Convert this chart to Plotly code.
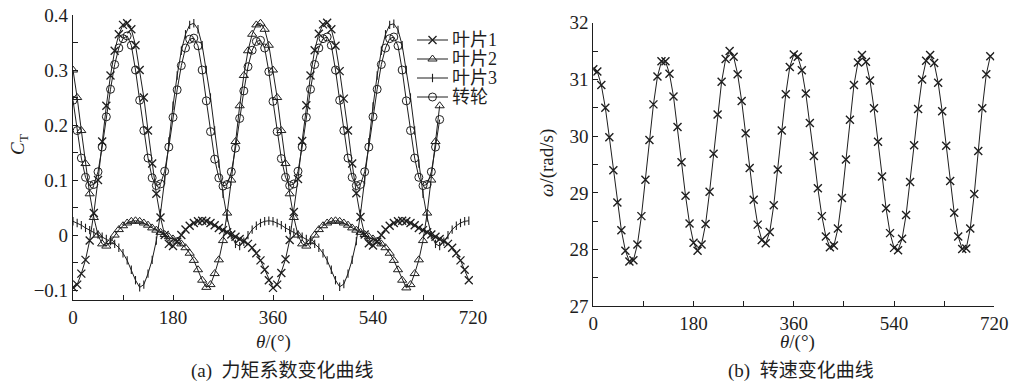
import numpy as np
import plotly.graph_objects as go

# ---------------- data ----------------
STEP_A = 7.5   # sampling step of the torque-coefficient curves (deg)
STEP_B = 7.2   # sampling step of the rotational-speed curve (deg)

blade1 = [
    -0.095, -0.09, -0.07, -0.045, -0.01, 0.04, 0.10, 0.17, 0.235, 0.29, 0.335, 0.365, 0.382, 0.385, 0.374, 0.345,
    0.30, 0.25, 0.19, 0.13, 0.075, 0.032, 0.0, -0.016, -0.02, -0.012, 0.0, 0.01, 0.017, 0.022, 0.025, 0.026,
    0.025, 0.022, 0.018, 0.013, 0.009, 0.005, 0.001, -0.003, -0.007, -0.011, -0.016, -0.023, -0.033, -0.046, -0.063, -0.082,
    -0.096, -0.09, -0.069, -0.044, -0.009, 0.042, 0.102, 0.171, 0.236, 0.29, 0.336, 0.366, 0.383, 0.386, 0.374, 0.344,
    0.298, 0.248, 0.19, 0.13, 0.076, 0.033, 0.001, -0.015, -0.019, -0.012, 0.0, 0.01, 0.017, 0.022, 0.025, 0.026,
    0.025, 0.022, 0.018, 0.013, 0.009, 0.005, 0.001, -0.003, -0.007, -0.011, -0.016, -0.023, -0.033, -0.046, -0.063, -0.082,
]

blade2 = [
    0.30, 0.25, 0.19, 0.13, 0.075, 0.032, 0.0, -0.016, -0.02, -0.012, 0.0, 0.01, 0.017, 0.022, 0.025, 0.026,
    0.025, 0.022, 0.018, 0.013, 0.009, 0.005, 0.001, -0.003, -0.007, -0.011, -0.016, -0.023, -0.033, -0.046, -0.063, -0.082,
    -0.095, -0.09, -0.07, -0.045, -0.01, 0.04, 0.10, 0.17, 0.235, 0.29, 0.335, 0.365, 0.382, 0.385, 0.374, 0.345,
    0.30, 0.25, 0.19, 0.13, 0.075, 0.032, 0.0, -0.016, -0.02, -0.012, 0.0, 0.01, 0.017, 0.022, 0.025, 0.026,
    0.025, 0.022, 0.018, 0.013, 0.009, 0.005, 0.001, -0.003, -0.007, -0.011, -0.016, -0.023, -0.033, -0.046, -0.063, -0.082,
    -0.096, -0.09, -0.07, -0.045, -0.01, 0.04, 0.10, 0.17, 0.235,
]

blade3 = [
    0.025, 0.022, 0.018, 0.013, 0.009, 0.005, 0.001, -0.003, -0.007, -0.011, -0.016, -0.023, -0.033, -0.046, -0.063, -0.082,
    -0.095, -0.09, -0.07, -0.045, -0.01, 0.04, 0.10, 0.17, 0.235, 0.29, 0.335, 0.365, 0.382, 0.385, 0.374, 0.345,
    0.30, 0.25, 0.19, 0.13, 0.075, 0.032, 0.0, -0.016, -0.02, -0.012, 0.0, 0.01, 0.017, 0.022, 0.025, 0.026,
    0.025, 0.022, 0.018, 0.013, 0.009, 0.005, 0.001, -0.003, -0.007, -0.011, -0.016, -0.023, -0.033, -0.046, -0.063, -0.082,
    -0.094, -0.089, -0.07, -0.045, -0.011, 0.039, 0.10, 0.169, 0.234, 0.29, 0.335, 0.365, 0.382, 0.384, 0.373, 0.345,
    0.30, 0.25, 0.19, 0.13, 0.075, 0.032, 0.0, -0.016, -0.02, -0.012, 0.0, 0.01, 0.017, 0.022, 0.025, 0.026,
]

rotor = [
    0.245, 0.19, 0.14, 0.105, 0.09, 0.092, 0.115, 0.16, 0.215, 0.265, 0.31, 0.34, 0.357, 0.362, 0.345, 0.30,
    0.245, 0.19, 0.14, 0.104, 0.09, 0.093, 0.116, 0.16, 0.214, 0.264, 0.308, 0.34, 0.356, 0.358, 0.344, 0.30,
    0.244, 0.188, 0.138, 0.104, 0.089, 0.092, 0.115, 0.158, 0.212, 0.262, 0.306, 0.336, 0.352, 0.354, 0.34, 0.297,
    0.243, 0.188, 0.139, 0.105, 0.09, 0.093, 0.116, 0.16, 0.214, 0.265, 0.31, 0.34, 0.357, 0.36, 0.345, 0.30,
    0.245, 0.19, 0.14, 0.105, 0.09, 0.092, 0.115, 0.16, 0.215, 0.265, 0.31, 0.34, 0.357, 0.36, 0.344, 0.30,
    0.244, 0.19, 0.14, 0.105, 0.09, 0.092, 0.115, 0.16, 0.21,
]

omega = [
    31.18, 31.14, 30.90, 30.50, 29.98, 29.40, 28.83, 28.34, 27.98, 27.79,
    27.81, 28.09, 28.59, 29.23, 29.93, 30.56, 31.05, 31.32, 31.32, 31.10,
    30.70, 30.16, 29.54, 28.95, 28.46, 28.12, 27.98, 28.09, 28.45, 29.02,
    29.69, 30.38, 30.96, 31.36, 31.50, 31.40, 31.09, 30.62, 30.05, 29.44,
    28.88, 28.44, 28.17, 28.11, 28.31, 28.78, 29.41, 30.10, 30.74, 31.22,
    31.44, 31.40, 31.16, 30.75, 30.23, 29.65, 29.08, 28.59, 28.23, 28.04,
    28.07, 28.37, 28.91, 29.59, 30.29, 30.90, 31.30, 31.43, 31.31, 30.98,
    30.49, 29.90, 29.29, 28.73, 28.29, 28.03, 27.99, 28.19, 28.61, 29.19,
    29.84, 30.48, 31.00, 31.33, 31.43, 31.29, 30.94, 30.44, 29.83, 29.21,
    28.65, 28.23, 28.01, 28.02, 28.37, 28.98, 29.74, 30.49, 31.09, 31.41,
]

series_names = ["叶片1", "叶片2", "叶片3", "转轮"]
x_ticks = [0, 180, 360, 540, 720]
ya_ticks = [-0.1, 0, 0.1, 0.2, 0.3, 0.4]
ya_ticktext = ["\u22120.1", "0", "0.1", "0.2", "0.3", "0.4"]
yb_ticks = [27, 28, 29, 30, 31, 32]

# ---------------- figure ----------------
W, H = 1015, 385
INK = "#1e1e1e"
SERIF = "Times New Roman, Liberation Serif, Tinos, DejaVu Serif, Noto Sans CJK SC, serif"
FS = 19


def grid(n, step):
    return np.arange(n) * step


def px(x):
    return x / W


def py(y):
    return 1 - y / H


markers = [
    dict(symbol="x-thin", size=8, line=dict(width=1.3, color=INK)),
    dict(symbol="triangle-up-open", size=8, color=INK, line=dict(width=1, color=INK)),
    dict(symbol="line-ns", size=6, line=dict(width=1.1, color=INK)),
    dict(symbol="circle-open", size=8, color=INK, line=dict(width=1, color=INK)),
]

fig = go.Figure()
for name, vals, mk in zip(series_names, [blade1, blade2, blade3, rotor], markers):
    fig.add_trace(go.Scatter(
        x=grid(len(vals), STEP_A), y=vals, name=name, mode="lines+markers",
        line=dict(color=INK, width=1), marker=mk, xaxis="x", yaxis="y", showlegend=False,
    ))

fig.add_trace(go.Scatter(
    x=grid(len(omega), STEP_B), y=omega, mode="lines+markers", showlegend=False,
    line=dict(color=INK, width=1),
    marker=dict(symbol="x-thin", size=8, line=dict(width=1.4, color=INK)),
    xaxis="x2", yaxis="y2",
))

# hand-built legend (pixel overlay axes)
LEG_X0, LEG_X1, LEG_Y0, LEG_DY = 417, 448, 40, 19
for i, (name, mk) in enumerate(zip(series_names, markers)):
    yy = LEG_Y0 + i * LEG_DY
    fig.add_trace(go.Scatter(
        x=[LEG_X0, (LEG_X0 + LEG_X1) / 2, LEG_X1], y=[yy, yy, yy], mode="lines",
        line=dict(color=INK, width=1), xaxis="x3", yaxis="y3", showlegend=False, hoverinfo="skip",
    ))
    fig.add_trace(go.Scatter(
        x=[(LEG_X0 + LEG_X1) / 2], y=[yy], mode="markers", marker=mk,
        xaxis="x3", yaxis="y3", showlegend=False, hoverinfo="skip",
    ))
    fig.add_annotation(xref="paper", yref="paper", x=px(LEG_X1 + 2), y=py(yy), text=name,
                       showarrow=False, xanchor="left", yanchor="middle",
                       font=dict(family=SERIF, size=18, color=INK))

axis_common = dict(
    showline=True, linecolor=INK, linewidth=1.2, ticks="inside", ticklen=5,
    tickcolor=INK, tickwidth=1, showgrid=False, zeroline=False,
    tickfont=dict(family=SERIF, size=FS, color=INK),
)

fig.update_layout(
    width=W, height=H, margin=dict(l=0, r=0, t=0, b=0, autoexpand=False),
    paper_bgcolor="white", plot_bgcolor="rgba(0,0,0,0)",
    showlegend=False,
    font=dict(family=SERIF, size=FS, color=INK),
    xaxis=dict(domain=[px(73), px(473)], range=[0, 720], tickvals=x_ticks, anchor="y",
               minor=dict(tickvals=[90, 270, 450, 630], ticks="inside", ticklen=5, tickcolor=INK),
               **axis_common),
    yaxis=dict(domain=[py(300), py(15)], range=[-0.118, 0.4], tickvals=ya_ticks,
               ticktext=ya_ticktext, anchor="x",
               minor=dict(tickvals=[-0.05, 0.05, 0.15, 0.25, 0.35], ticks="inside", ticklen=5, tickcolor=INK),
               **axis_common),
    xaxis2=dict(domain=[px(593.3), px(994.3)], range=[0, 720], tickvals=x_ticks, anchor="y2",
                minor=dict(tickvals=[90, 270, 450, 630], ticks="inside", ticklen=5, tickcolor=INK),
                **axis_common),
    yaxis2=dict(domain=[py(306.3), py(22.7)], range=[27, 32], tickvals=yb_ticks, anchor="x2",
                minor=dict(tickvals=[27.5, 28.5, 29.5, 30.5, 31.5], ticks="inside", ticklen=5, tickcolor=INK),
                **axis_common),
    xaxis3=dict(domain=[0, 1], range=[0, W], visible=False, fixedrange=True, anchor="y3"),
    yaxis3=dict(domain=[0, 1], range=[H, 0], visible=False, fixedrange=True, anchor="x3"),
)

ann_font = dict(family=SERIF, size=FS, color=INK)
annotations = [
    dict(text="<i>C</i><sub>T</sub>", x=px(19), y=py(145), textangle=-90),
    dict(text="<i>θ</i>/(°)", x=px(273), y=py(342)),
    dict(text="(a)  力矩系数变化曲线", x=px(282), y=py(371)),
    dict(text="<i>ω</i>/(rad/s)", x=px(547), y=py(163), textangle=-90),
    dict(text="<i>θ</i>/(°)", x=px(797), y=py(342)),
    dict(text="(b)  转速变化曲线", x=px(801), y=py(371)),
]
for a in annotations:
    fig.add_annotation(xref="paper", yref="paper", showarrow=False,
                       xanchor="center", yanchor="middle", font=ann_font, **a)

fig.write_html(
    "out.html",
    config={"displayModeBar": False},
    post_script="document.body.style.margin='0';document.body.style.overflow='hidden';",
)
